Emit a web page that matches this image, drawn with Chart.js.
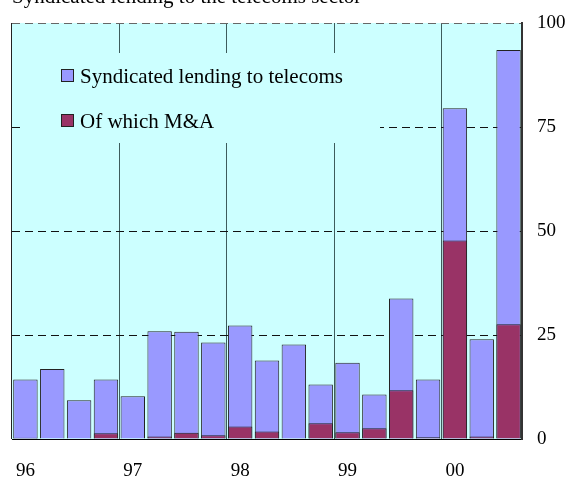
<!DOCTYPE html>
<html>
<head>
<meta charset="utf-8">
<script src="https://cdn.jsdelivr.net/npm/chart.js@4"></script>
<style>
  html, body { margin: 0; padding: 0; background: #fff; }
  #wrap { width: 570px; height: 479px; }
</style>
</head>
<body>
<div id="wrap"><canvas id="bars"></canvas></div>
<script>
var quarters = ['96Q1','96Q2','96Q3','96Q4','97Q1','97Q2','97Q3','97Q4','98Q1','98Q2','98Q3','98Q4',
                '99Q1','99Q2','99Q3','99Q4','00Q1','00Q2','00Q3'];
var yearTicks = {'96Q1': '96', '97Q1': '97', '98Q1': '98', '99Q1': '99', '00Q1': '00'};
var totalLending = [14.3, 16.8, 9.3, 14.3, 10.3, 25.9, 25.8, 23.2, 27.3, 18.9, 22.7, 13.1,
                    18.3, 10.7, 33.8, 14.3, 79.5, 24.0, 93.5];
var maLending = [0.3, 0, 0, 1.4, 0, 0.6, 1.5, 0.9, 3.0, 1.8, 0.2, 3.8,
                 1.6, 2.6, 11.7, 0.4, 47.7, 0.6, 27.6];
var yTicks = [0, 25, 50, 75, 100];

var serif = '"Liberation Serif", "Times New Roman", serif';
Chart.defaults.font.family = serif;
Chart.defaults.color = '#000';

var backdrop = {
    id: 'backdrop',
    beforeDraw: function (chart) {
        var c = chart.ctx, a = chart.chartArea;
        c.save();
        c.fillStyle = '#ffffff';
        c.fillRect(0, 0, chart.width, chart.height);
        c.fillStyle = '#ccffff';
        c.fillRect(a.left, a.top, a.right - a.left, a.bottom - a.top);
        c.restore();
    },
    beforeDatasetsDraw: function (chart) {
        var c = chart.ctx;
        // legend box sits inside the plot and hides the grid
        c.save();
        c.fillStyle = '#ccffff';
        c.fillRect(20, 53, 360, 90);
        var items = [
            {text: 'Syndicated lending to telecoms', color: '#9999ff', y: 69},
            {text: 'Of which M&A', color: '#993366', y: 114}
        ];
        c.font = '21px ' + serif;
        c.textBaseline = 'alphabetic';
        items.forEach(function (it) {
            c.fillStyle = it.color;
            c.fillRect(61, it.y, 13, 13);
            c.strokeStyle = '#222';
            c.lineWidth = 1;
            c.strokeRect(61.5, it.y + 0.5, 12, 12);
            c.fillStyle = '#000';
            c.fillText(it.text, 80, it.y + 14);
        });
        c.restore();
    },
    afterDraw: function (chart) {
        var c = chart.ctx;
        c.save();
        c.font = '21px ' + serif;
        c.fillStyle = '#000';
        c.textBaseline = 'alphabetic';
        c.fillText('Syndicated lending to the telecoms sector', 12, 3);
        c.restore();
    }
};

var ctx = document.getElementById('bars').getContext('2d');
var myChart = new Chart(ctx, {
    type: 'bar',
    data: {
        labels: quarters,
        datasets: [{
            label: 'Syndicated lending to telecoms',
            data: totalLending,
            backgroundColor: '#9999ff',
            borderColor: '#222',
            borderWidth: 1,
            order: 2
        }, {
            label: 'Of which M&A',
            data: maLending,
            backgroundColor: '#993366',
            borderColor: '#222',
            borderWidth: 1,
            order: 1
        }]
    },
    options: {
        responsive: true,
        maintainAspectRatio: false,
        animation: false,
        layout: { padding: { left: 12, top: 23 } },
        datasets: { bar: { barPercentage: 0.91, categoryPercentage: 1 } },
        plugins: {
            legend: { display: false },
            tooltip: { enabled: false }
        },
        scales: {
            x: {
                stacked: true,
                grid: {
                    offset: true,
                    drawTicks: false,
                    lineWidth: 1,
                    color: function (c) {
                        if (c.index === 0) return '#222';
                        return (c.index % 4 === 0) ? '#3d5c5c' : 'rgba(0,0,0,0)';
                    }
                },
                border: { color: '#000', width: 1 },
                ticks: {
                    autoSkip: false,
                    maxRotation: 0,
                    padding: 21,
                    font: { size: 19 },
                    callback: function (v, i) { return yearTicks[quarters[i]] || ''; }
                },
                afterFit: function (s) {
                    s.height = 40;
                    s.paddingLeft = 0;
                    s.paddingRight = 0;
                }
            },
            y: {
                position: 'right',
                stacked: false,
                min: 0,
                max: 100,
                grid: {
                    drawTicks: false,
                    color: function (c) {
                        if (c.tick && c.tick.value === 0) return 'rgba(0,0,0,0)';
                        if (c.tick && c.tick.value === 100) return '#666';
                        return '#111';
                    }
                },
                border: { color: '#333', width: 2, dash: [8, 5] },
                ticks: {
                    stepSize: 25,
                    padding: 15,
                    font: { size: 19 },
                    callback: function (v) { return yTicks.indexOf(v) >= 0 ? String(v) : ''; }
                },
                afterFit: function (s) {
                    s.width = 48;
                    s.paddingTop = 0;
                    s.paddingBottom = 0;
                }
            }
        }
    },
    plugins: [backdrop]
});
</script>
</body>
</html>
